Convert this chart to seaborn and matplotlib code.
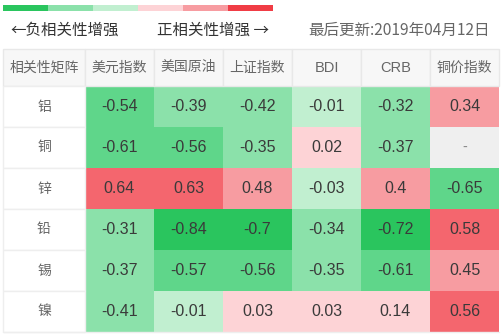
import numpy as np
import pandas as pd
import matplotlib
matplotlib.use("Agg")
import matplotlib.pyplot as plt
from matplotlib.colors import ListedColormap, BoundaryNorm
from matplotlib.patches import Rectangle
import seaborn as sns

# ---- data ----
metals = ["铝", "铜", "锌", "铅", "锡", "镍"]
indices = ["美元指数", "美国原油", "上证指数", "BDI", "CRB", "铜价指数"]
row_al = [-0.54, -0.39, -0.42, -0.01, -0.32, 0.34]
row_cu = [-0.61, -0.56, -0.35, 0.02, -0.37, np.nan]
row_zn = [0.64, 0.63, 0.48, -0.03, 0.4, -0.65]
row_pb = [-0.31, -0.84, -0.7, -0.34, -0.72, 0.58]
row_sn = [-0.37, -0.57, -0.56, -0.35, -0.61, 0.45]
row_ni = [-0.41, -0.01, 0.03, 0.03, 0.14, 0.56]
corner_label = "相关性矩阵"
legend_left = "←负相关性增强"
legend_right = "正相关性增强 →"
update_text = "最后更新:2019年04月12日"
legend_levels = [0, 1, 2, 3, 4, 5]

sns.set_theme(style="white")
plt.rcParams["font.family"] = ["Noto Sans CJK SC", "DejaVu Sans"]

df = pd.DataFrame([row_al, row_cu, row_zn, row_pb, row_sn, row_ni],
                  index=metals, columns=indices)

cell_colors = ["#2ac55e", "#5fd68a", "#8be1aa", "#c1efd0",
               "#fdd3d6", "#f79ca1", "#f4666e", "#f03c45"]
bounds = [-1.0, -0.695, -0.5, -0.3, 0.0, 0.3, 0.5, 0.7, 1.0]
cmap = ListedColormap(cell_colors)
norm = BoundaryNorm(bounds, cmap.N)

W, H = 503, 334
fig = plt.figure(figsize=(W / 100, H / 100), dpi=100)

# pixel layout
x0, x_lab, cw = 3, 82, 69
y_top, hh, rh = 49, 37, 41
tw = x_lab + 6 * cw
th = hh + 6 * rh
ax = fig.add_axes([x0 / W, (H - y_top - th) / H, tw / W, th / H])
ax.set_facecolor("#efefef")

labels = df.map(lambda v: "" if pd.isna(v) else f"{v:g}")
sns.heatmap(df, ax=ax, cmap=cmap, norm=norm, cbar=False, annot=labels, fmt="",
            annot_kws={"color": "#3a3a3a", "fontsize": 11.5,
                       "family": ["Liberation Sans", "DejaVu Sans"]},
            linewidths=0, square=False)

lx = -x_lab / cw
hy = -hh / rh
ax.set_xlim(lx, 6)
ax.set_ylim(6, hy)
ax.set_xticks([])
ax.set_yticks([])
for s in ax.spines.values():
    s.set_visible(False)

# missing value marker
for i in range(df.shape[0]):
    for j in range(df.shape[1]):
        if pd.isna(df.iat[i, j]):
            ax.text(j + 0.5, i + 0.5, "-", ha="center", va="center",
                    color="#888888", fontsize=10)

border = "#e8e8e8"
# header
ax.add_patch(Rectangle((lx, hy), -lx, -hy, facecolor="#f7f7f7",
                       edgecolor=border, lw=1, clip_on=False, zorder=3))
ax.text(lx / 2, hy / 2, corner_label, ha="center", va="center",
        color="#666666", fontsize=10, zorder=4)
for j, name in enumerate(indices):
    ax.add_patch(Rectangle((j, hy), 1, -hy, facecolor="#f7f7f7",
                           edgecolor=border, lw=1, clip_on=False, zorder=3))
    fam = ["Liberation Sans", "DejaVu Sans"] if name.isascii() else ["Noto Sans CJK SC", "DejaVu Sans"]
    ax.text(j + 0.5, hy / 2, name, ha="center", va="center",
            color="#666666", fontsize=10.5 if name.isascii() else 10,
            family=fam, zorder=4)
# row labels
for i, name in enumerate(metals):
    ax.add_patch(Rectangle((lx, i), -lx, 1, facecolor="white",
                           edgecolor="#eeeeee", lw=1, clip_on=False, zorder=3))
    ax.text(lx / 2, i + 0.5, name, ha="center", va="center",
            color="#666666", fontsize=10, zorder=4)
ax.plot([lx, 6], [6, 6], color="#eeeeee", lw=1, clip_on=False, zorder=3)

# legend colour bar
bar_ax = fig.add_axes([3 / W, (H - 11) / H, 270 / W, 6 / H])
legend_cmap = ListedColormap(["#2ac55e", "#8be1aa", "#c1efd0",
                              "#fdd3d6", "#f79ca1", "#f03c45"])
sns.heatmap(np.array([legend_levels]), ax=bar_ax, cmap=legend_cmap, cbar=False,
            vmin=-0.5, vmax=5.5, xticklabels=False, yticklabels=False)
bar_ax.axis("off")

fig.text(10 / W, 1 - 30 / H, legend_left, ha="left", va="center",
         color="#333333", fontsize=11.2)
fig.text(157 / W, 1 - 30 / H, legend_right, ha="left", va="center",
         color="#333333", fontsize=11.2)
fig.text(490 / W, 1 - 30 / H, update_text, ha="right", va="center",
         color="#666666", fontsize=11.2,
         family=["Noto Sans CJK SC", "DejaVu Sans"])

fig.savefig("out.png", dpi=100, facecolor="white")
